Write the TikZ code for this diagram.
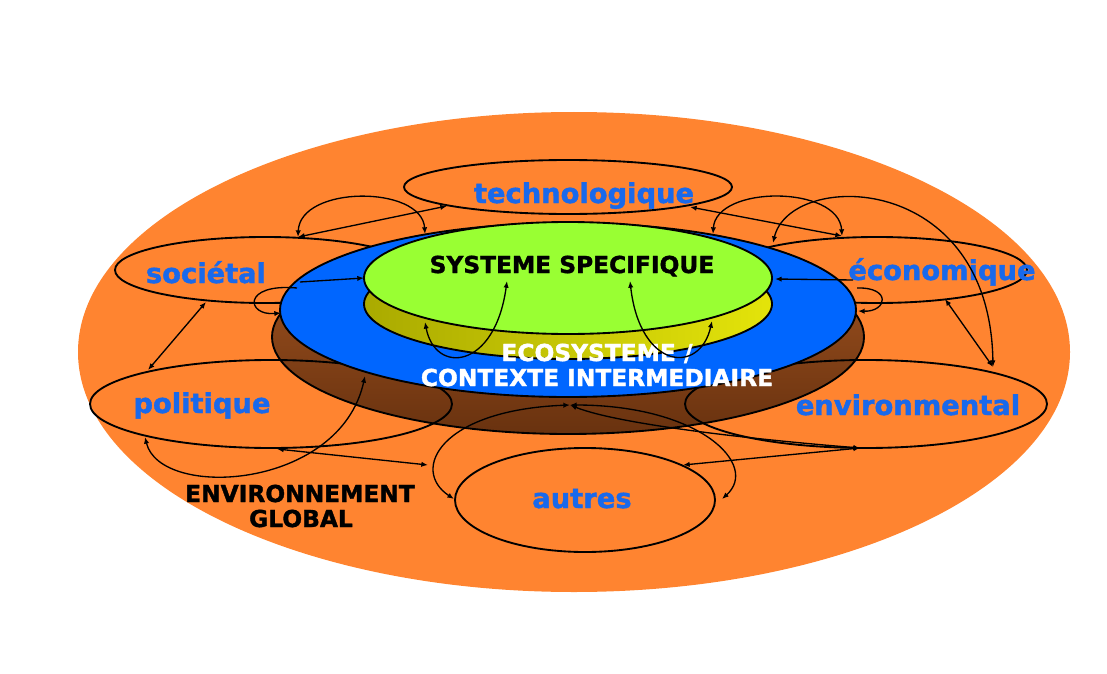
\documentclass[tikz,border=0pt]{standalone}
\usepackage{fontspec}
\setmainfont{DejaVu Sans}[BoldFeatures={FakeBold=1.5}]
\usetikzlibrary{arrows.meta}

\definecolor{orangeglobal}{RGB}{255,132,48}
\definecolor{bleueco}{RGB}{0,102,255}
\definecolor{vertsys}{RGB}{153,255,51}
\definecolor{jaunefonce}{RGB}{170,170,0}
\definecolor{jauneclair}{RGB}{228,228,10}
\definecolor{brunclair}{RGB}{165,86,34}
\definecolor{brunfonce}{RGB}{105,50,15}
\definecolor{bleutexte}{RGB}{25,105,235}

\tikzset{
  bord/.style={line width=1.4pt},
  domaine/.style={anchor=base,text=bleutexte,font=\fontsize{20.5}{24}\selectfont\bfseries},
  titre/.style={anchor=base,font=\fontsize{17.5}{20}\selectfont\bfseries},
  lien/.style={line width=1pt,{Latex[length=5pt,width=4pt]}-{Latex[length=5pt,width=4pt]}},
  fleche/.style={line width=1pt,-{Latex[length=5pt,width=4pt]}}
}

\begin{document}
\begin{tikzpicture}[x=0.75pt,y=-0.75pt]
\useasboundingbox (0,0) rectangle (1107,674);

% Environnement global
\fill[orangeglobal] (574,352) ellipse [x radius=496,y radius=240];

% Ombre de l'ecosysteme
\shade[top color=brunclair,bottom color=brunfonce,draw=black,bord] (568,337) ellipse [x radius=296,y radius=97];

% Domaines
\foreach \cx/\cy/\rx/\ry in {568/187/164/27,265/270/150/33,877/270/150/33,271/404/181/44,866/404/181/44,585/500/130/52}{
\draw[bord] (\cx,\cy) ellipse [x radius=\rx,y radius=\ry];
}

% Ecosysteme et systeme specifique
\draw[bord,fill=bleueco] (568,310) ellipse [x radius=288,y radius=87];
\shade[left color=jaunefonce,right color=jauneclair,draw=black,bord] (568,304) ellipse [x radius=204,y radius=55];
\draw[bord,fill=vertsys] (568,278) ellipse [x radius=204,y radius=56];

% Textes
\node[titre] (sys) at (572,273) {SYSTEME SPECIFIQUE};
\node[titre,text=white] (ecoA) at (597,361) {ECOSYSTEME /};
\node[titre,text=white] (ecoB) at (597,386) {CONTEXTE INTERMEDIAIRE};
\node[titre] (globA) at (300,502) {ENVIRONNEMENT};
\node[titre] (globB) at (301,527) {GLOBAL};
\node[domaine] (tec) at (584,203) {technologique};
\node[domaine] (soc) at (206,283) {sociétal};
\node[domaine] (ecn) at (942,280) {économique};
\node[domaine] (pol) at (202,413) {politique};
\node[domaine] (env) at (908,415) {environmental};
\node[domaine] (aut) at (582,508) {autres};

% Points d'attache
\coordinate (socH) at (298,237);
\coordinate (socD) at (300,282);
\coordinate (socB) at (206,302);
\coordinate (socL) at (297,288);
\coordinate (tecG) at (447,206);
\coordinate (tecD) at (690,207);
\coordinate (ecnH) at (842,236);
\coordinate (ecnHG) at (773,243);
\coordinate (ecnG) at (853,280);
\coordinate (ecnL) at (857,288);
\coordinate (ecnB) at (945,299);
\coordinate (polH) at (148,370);
\coordinate (polG) at (145,437);
\coordinate (polB) at (277,449);
\coordinate (envH) at (993,367);
\coordinate (envB) at (860,448);
\coordinate (autG) at (454,499);
\coordinate (autD) at (722,499);
\coordinate (jonG) at (428,465);
\coordinate (jonD) at (683,465);
\coordinate (bleuHG) at (425,234);
\coordinate (bleuHD) at (713,234);
\coordinate (bleuG) at (281,313);
\coordinate (bleuD) at (858,311);
\coordinate (bleuBG) at (365,376);
\coordinate (bleuB) at (570,405);
\coordinate (vertG) at (364,278);
\coordinate (vertD) at (775,279);
\coordinate (vertA) at (507,281);
\coordinate (vertB) at (630,281);
\coordinate (jauneG) at (425,322);
\coordinate (jauneD) at (712,321);

% Liens en haut
\draw[lien] (socH) -- (tecG);
\draw[lien] (socH) .. controls (300,185) and (422,185) .. (bleuHG);
\draw[lien] (tecD) -- (ecnH);
\draw[lien] (bleuHD) .. controls (716,185) and (839,185) .. (ecnH);
\draw[lien] (ecnHG) .. controls (790,170) and (990,170) .. (envH);

% Liens vers le systeme
\draw[fleche] (socD) -- (vertG);
\draw[fleche] (ecnG) -- (vertD);
\draw[fleche] (socL) .. controls (242,283) and (246,316) .. (bleuG);
\draw[fleche] (ecnL) .. controls (892,287) and (887,312) .. (bleuD);
\draw[lien] (jauneG) .. controls (435,375) and (495,370) .. (vertA);
\draw[lien] (vertB) .. controls (640,370) and (700,375) .. (jauneD);

% Liens lateraux
\draw[lien] (socB) -- (polH);
\draw[lien] (ecnB) -- (envH);
\draw[lien] (polG) .. controls (160,500) and (340,490) .. (bleuBG);

% Liens en bas
\draw[lien] (polB) -- (jonG);
\draw[lien] (envB) -- (jonD);
\draw[lien] (bleuB) .. controls (440,410) and (410,470) .. (autG);
\draw[lien] (bleuB) .. controls (700,405) and (760,465) .. (autD);
\draw[lien] (bleuB) .. controls (620,425) and (760,440) .. (envB);

\end{tikzpicture}
\end{document}
